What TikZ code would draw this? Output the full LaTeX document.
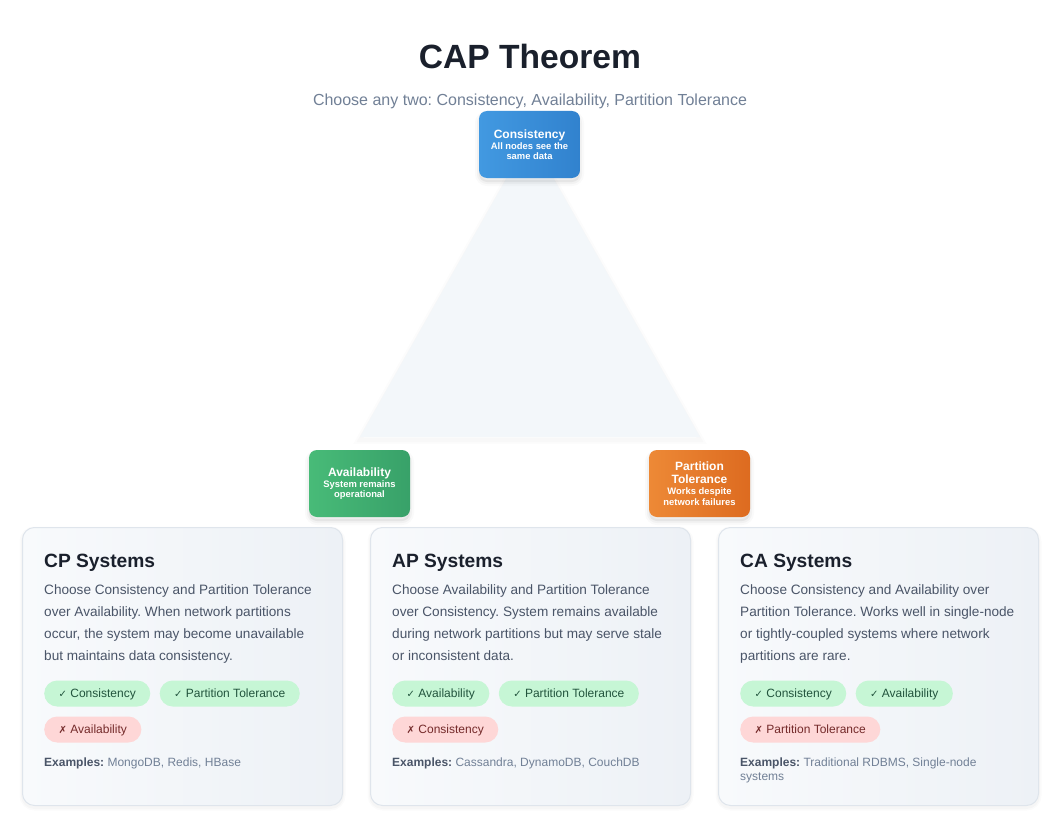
\documentclass[tikz,border=0pt]{standalone}
\usepackage{fontspec}
\setmainfont{Liberation Sans}
\newfontfamily\symfont{DejaVu Sans}
\usetikzlibrary{positioning}
\definecolor{titlec}{HTML}{1A202C}
\definecolor{subc}{HTML}{718096}
\definecolor{bodyc}{HTML}{4A5568}
\definecolor{bluea}{HTML}{4299E1}
\definecolor{blueb}{HTML}{3182CE}
\definecolor{greena}{HTML}{48BB78}
\definecolor{greenb}{HTML}{38A169}
\definecolor{orangea}{HTML}{ED8936}
\definecolor{orangeb}{HTML}{DD6B20}
\definecolor{trifill}{HTML}{F3F7FA}
\definecolor{cardA}{HTML}{F8FAFC}
\definecolor{cardB}{HTML}{EDF1F6}
\definecolor{cardline}{HTML}{DFE5EC}
\definecolor{okfill}{HTML}{C6F6D5}
\definecolor{oktext}{HTML}{22543D}
\definecolor{nofill}{HTML}{FED7D7}
\definecolor{notext}{HTML}{742A2A}
\newcommand\chk{{\symfont\fontsize{10}{12}\selectfont ✓}}
\newcommand\crs{{\symfont\fontsize{10}{12}\selectfont ✗}}
\newcommand\vtitle[1]{{\fontsize{12}{13.5}\selectfont #1}}
\frenchspacing
\tikzset{
  softshadow/.style={
    preaction={draw=black, line width=8pt, draw opacity=0.02, fill=black, fill opacity=0.05, transform canvas={yshift=-4pt}},
    preaction={draw=black, line width=4pt, draw opacity=0.03, transform canvas={yshift=-4pt}}},
  faintshadow/.style={
    preaction={draw=black, line width=6pt, draw opacity=0.015, transform canvas={yshift=-2pt}},
    preaction={draw=black, line width=3pt, draw opacity=0.02, transform canvas={yshift=-2pt}}},
  vertex/.style={rounded corners=8pt, minimum width=101pt, minimum height=67pt,
    inner sep=2pt, text=white, align=center, softshadow,
    font=\bfseries\fontsize{9.4}{10.3}\selectfont},
  card/.style={rounded corners=12pt, draw=cardline, line width=1pt, faintshadow,
    left color=cardA, right color=cardB, minimum width=320pt, minimum height=278pt,
    anchor=north west},
  ctitle/.style={anchor=base west, inner sep=0pt, text=titlec, font=\bfseries\fontsize{19.2}{22}\selectfont},
  body/.style={anchor=base west, inner sep=0pt, text=bodyc, font=\fontsize{13.6}{22}\selectfont},
  pill/.style={rounded corners=13pt, minimum height=26pt, inner xsep=14.5pt, inner ysep=0pt,
    text height=10.5pt, text depth=2pt, font=\fontsize{12}{14}\selectfont},
  pillok/.style={pill, fill=okfill, text=oktext},
  pillno/.style={pill, fill=nofill, text=notext},
  exmp/.style={anchor=base west, inner sep=0pt, text=subc, font=\fontsize{12}{14}\selectfont},
}
\begin{document}
\begin{tikzpicture}[x=1pt,y=-1pt]
\useasboundingbox (0,0) rectangle (1060,824);
\fill[white] (0,0) rectangle (1060,824);

% title
\node[anchor=base, inner sep=0pt, text=titlec, font=\bfseries\fontsize{33.6}{40}\selectfont] (title) at (530,69) {CAP Theorem};
\node[anchor=base, inner sep=0pt, text=subc, font=\fontsize{16}{20}\selectfont] (subtitle) at (530,106) {Choose any two: Consistency, Availability, Partition Tolerance};

% triangle
\coordinate (apex) at (530,137);
\coordinate (bl) at (360,437);
\coordinate (br) at (700,437);
\fill[trifill, line join=round,
  preaction={draw=black, line width=8pt, draw opacity=0.012, transform canvas={yshift=-3pt}},
  preaction={draw=black, line width=4pt, draw opacity=0.015, transform canvas={yshift=-3pt}}]
  (apex) -- (br) -- (bl) -- cycle;

% vertices
\node[vertex, left color=bluea, right color=blueb] (cons) at (529.5,144.5)
  {\vtitle{Consistency}\\[1pt]All nodes see the\\same data};
\node[vertex, left color=greena, right color=greenb] (avail) at (359.5,483.5)
  {\vtitle{Availability}\\[1pt]System remains\\operational};
\node[vertex, left color=orangea, right color=orangeb] (part) at (699.5,483.5)
  {\vtitle{Partition}\\[3pt]\vtitle{Tolerance}\\[1pt]Works despite\\network failures};

% CP card
\node[card] (cp) at (22,527) {};
\node[ctitle] (cpT) at (44,567) {CP Systems};
\node[body] (cp1) at (44,594) {Choose Consistency and Partition Tolerance};
\node[body] (cp2) at (44,616) {over Availability. When network partitions};
\node[body] (cp3) at (44,638) {occur, the system may become unavailable};
\node[body] (cp4) at (44,660) {but maintains data consistency.};
\node[pillok, anchor=west] (cpa) at (44,693.5) {\chk\ Consistency};
\node[pillok, right=9pt of cpa] (cpb) {\chk\ Partition Tolerance};
\node[pillno, anchor=west] (cpc) at (44,729.5) {\crs\ Availability};
\node[exmp] (cpE) at (44,766) {\textcolor{bodyc}{\bfseries Examples:} MongoDB, Redis, HBase};

% AP card
\node[card] (ap) at (370,527) {};
\node[ctitle] (apT) at (392,567) {AP Systems};
\node[body] (ap1) at (392,594) {Choose Availability and Partition Tolerance};
\node[body] (ap2) at (392,616) {over Consistency. System remains available};
\node[body] (ap3) at (392,638) {during network partitions but may serve stale};
\node[body] (ap4) at (392,660) {or inconsistent data.};
\node[pillok, anchor=west] (apa) at (392,693.5) {\chk\ Availability};
\node[pillok, right=9pt of apa] (apb) {\chk\ Partition Tolerance};
\node[pillno, anchor=west] (apc) at (392,729.5) {\crs\ Consistency};
\node[exmp] (apE) at (392,766) {\textcolor{bodyc}{\bfseries Examples:} Cassandra, DynamoDB, CouchDB};

% CA card
\node[card] (ca) at (718,527) {};
\node[ctitle] (caT) at (740,567) {CA Systems};
\node[body] (ca1) at (740,594) {Choose Consistency and Availability over};
\node[body] (ca2) at (740,616) {Partition Tolerance. Works well in single-node};
\node[body] (ca3) at (740,638) {or tightly-coupled systems where network};
\node[body] (ca4) at (740,660) {partitions are rare.};
\node[pillok, anchor=west] (caa) at (740,693.5) {\chk\ Consistency};
\node[pillok, right=9pt of caa] (cab) {\chk\ Availability};
\node[pillno, anchor=west] (cac) at (740,729.5) {\crs\ Partition Tolerance};
\node[exmp] (caE) at (740,766) {\textcolor{bodyc}{\bfseries Examples:} Traditional RDBMS, Single-node};
\node[exmp] (caE2) at (740,780) {systems};
\end{tikzpicture}
\end{document}
